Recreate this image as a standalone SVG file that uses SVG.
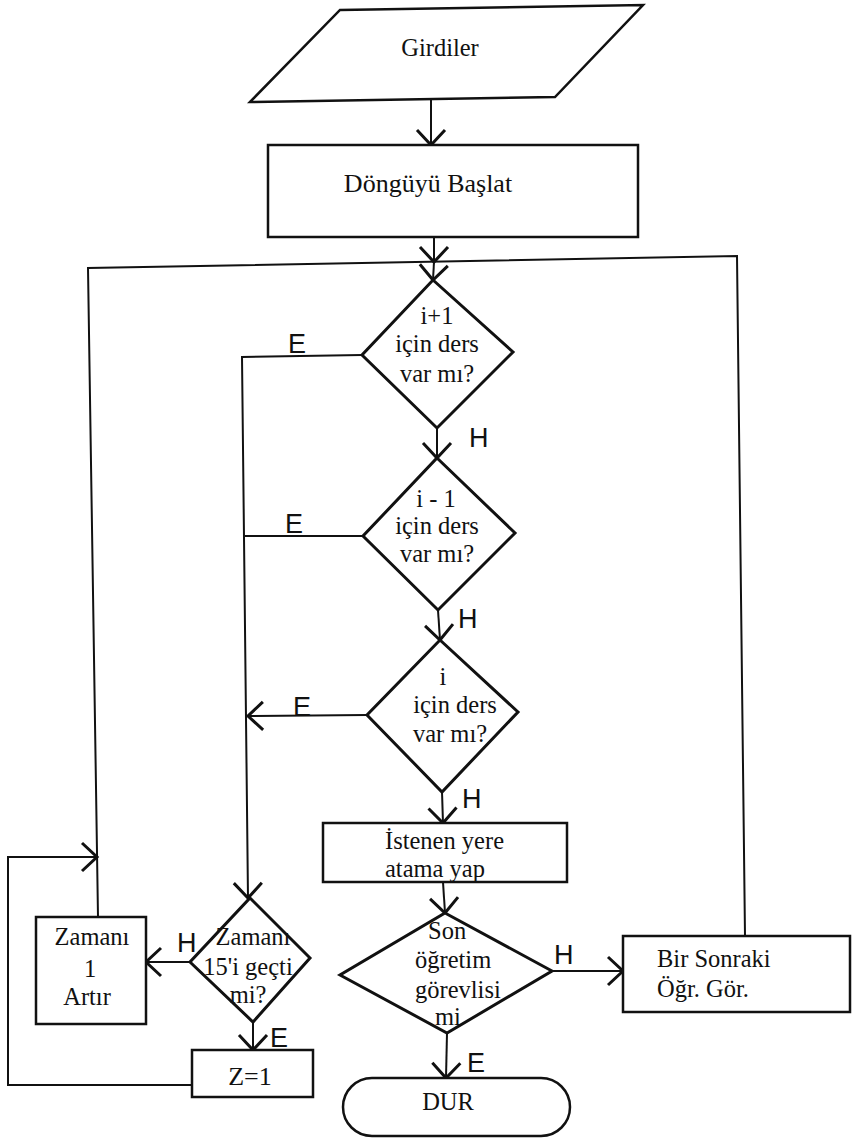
<svg xmlns="http://www.w3.org/2000/svg" width="856" height="1140" viewBox="0 0 856 1140">
<defs>
<marker id="arr" markerUnits="userSpaceOnUse" markerWidth="40" markerHeight="40" refX="0" refY="0" viewBox="-20 -20 40 40" orient="auto" overflow="visible">
<path d="M -15 -14 L 0 0 L -15 14" fill="none" stroke="#111" stroke-width="3"/>
</marker>
</defs>
<style>
.shape{fill:#fff;stroke:#111;stroke-width:2.5}
.dia{fill:#fff;stroke:#111;stroke-width:3}
.con{fill:none;stroke:#111;stroke-width:2}
.ar{marker-end:url(#arr)}
.lbl{font-family:'Liberation Sans', Arial, sans-serif;font-size:27px;fill:#111}
</style>
<rect width="856" height="1140" fill="#fff"/>

<g id="connectors">
<line class="con ar" x1="431" y1="100" x2="431" y2="145"/>
<line class="con ar" x1="434" y1="237" x2="434" y2="262"/>
<line class="con ar" x1="434" y1="262" x2="433" y2="280"/>
<polyline class="con" points="98,917 88,268 737,256 745,936"/>
<line class="con ar" x1="437" y1="428" x2="437" y2="458"/>
<line class="con ar" x1="438" y1="610" x2="440" y2="640"/>
<line class="con ar" x1="442" y1="792" x2="443" y2="823"/>
<polyline class="con ar" points="362,355 242,357 248,898"/>
<line class="con" x1="363" y1="536" x2="245" y2="536"/>
<line class="con ar" x1="367" y1="715" x2="248" y2="716"/>
<line class="con ar" x1="443" y1="882" x2="445" y2="913"/>
<line class="con ar" x1="552" y1="971" x2="623" y2="971"/>
<line class="con ar" x1="447" y1="1033" x2="446" y2="1078"/>
<line class="con ar" x1="190" y1="962" x2="146" y2="962"/>
<line class="con ar" x1="253" y1="1022" x2="253" y2="1050"/>
<polyline class="con ar" points="192,1085 8,1085 8,857 97,857"/>
</g>

<g id="labels">
<text class="lbl" x="288" y="353">E</text>
<text class="lbl" x="469" y="447">H</text>
<text class="lbl" x="285" y="533">E</text>
<text class="lbl" x="458" y="628">H</text>
<text class="lbl" x="293" y="716">E</text>
<text class="lbl" x="462" y="808">H</text>
<text class="lbl" x="177" y="952">H</text>
<text class="lbl" x="270" y="1047">E</text>
<text class="lbl" x="554" y="964">H</text>
<text class="lbl" x="467" y="1072">E</text>
</g>

<g font-family="Liberation Serif, DejaVu Serif, serif" font-size="24.5" fill="#111">
<g id="girdiler">
<polygon class="shape" points="340,10 643,5 555,97 250,102"/>
<text x="440" y="56" text-anchor="middle">Girdiler</text>
</g>

<g id="dongu">
<rect class="shape" x="268" y="145" width="370" height="92"/>
<text x="428" y="192" text-anchor="middle" font-size="26">Döngüyü Başlat</text>
</g>

<g id="d1">
<polygon class="dia" points="433,280 513,352 437,428 362,355"/>
<text x="437" y="324" text-anchor="middle">i+1</text>
<text x="437" y="352" text-anchor="middle">için ders</text>
<text x="437" y="382" text-anchor="middle">var mı?</text>
</g>

<g id="d2">
<polygon class="dia" points="437,458 515,533 438,610 363,536"/>
<text x="436" y="507" text-anchor="middle">i - 1</text>
<text x="437" y="534" text-anchor="middle">için ders</text>
<text x="437" y="562" text-anchor="middle">var mı?</text>
</g>

<g id="d3">
<polygon class="dia" points="440,640 518,712 442,792 367,715"/>
<text x="443" y="685" text-anchor="middle">i</text>
<text x="455" y="713" text-anchor="middle">için ders</text>
<text x="450" y="742" text-anchor="middle">var mı?</text>
</g>

<g id="istenen">
<rect class="shape" x="323" y="823" width="244" height="59"/>
<text x="385" y="849">İstenen yere</text>
<text x="385" y="877">atama yap</text>
</g>

<g id="d4">
<polygon class="dia" points="445,913 552,971 447,1033 340,975"/>
<text x="428" y="939">Son</text>
<text x="415" y="968">öğretim</text>
<text x="415" y="998">görevlisi</text>
<text x="435" y="1025">mi</text>
</g>

<g id="sonraki">
<rect class="shape" x="623" y="936" width="227" height="76"/>
<text x="657" y="967">Bir Sonraki</text>
<text x="657" y="997">Öğr. Gör.</text>
</g>

<g id="dur">
<rect class="shape" x="343" y="1078" width="227" height="58" rx="29"/>
<text x="448" y="1110" text-anchor="middle">DUR</text>
</g>

<g id="zamani">
<rect class="shape" x="36" y="917" width="110" height="107"/>
<text x="92" y="945" text-anchor="middle">Zamanı</text>
<text x="90" y="977" text-anchor="middle">1</text>
<text x="87" y="1005" text-anchor="middle">Artır</text>
</g>

<g id="d5">
<polygon class="dia" points="250,898 310,958 253,1022 190,962"/>
<text x="253" y="945" text-anchor="middle">Zamanı</text>
<text x="248" y="975" text-anchor="middle">15'i geçti</text>
<text x="248" y="1003" text-anchor="middle">mi?</text>
</g>

<g id="z1">
<rect class="shape" x="192" y="1050" width="121" height="47"/>
<text x="250" y="1085" text-anchor="middle" font-size="26">Z=1</text>
</g>
</g>
</svg>
